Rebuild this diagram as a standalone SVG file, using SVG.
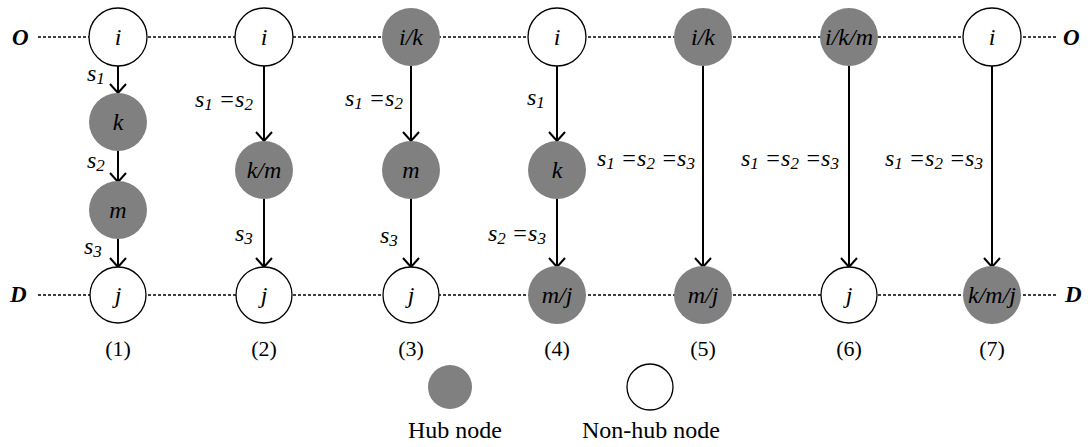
<svg xmlns="http://www.w3.org/2000/svg" width="1088" height="447" viewBox="0 0 1088 447">
<style>
.bg{fill:#fff}
.hub{fill:#808080;stroke:none}
.non{fill:#fff;stroke:#000;stroke-width:1.3}
.dot{stroke:#000;stroke-width:1.6;stroke-dasharray:3 2;fill:none}
.arr{stroke:#000;stroke-width:2;fill:none;marker-end:url(#ah)}
.nl{font-family:"Liberation Serif","Times New Roman",serif;font-style:italic;font-size:24px;text-anchor:middle;fill:#000}
.lbl{font-family:"Liberation Serif","Times New Roman",serif;font-style:italic;font-size:24px;fill:#000}
.sub{font-size:17px}
.od{font-family:"Liberation Serif","Times New Roman",serif;font-style:italic;font-weight:bold;font-size:23px;fill:#000}
.cap{font-family:"Liberation Serif","Times New Roman",serif;font-size:22px;text-anchor:middle;fill:#000}
.leg{font-family:"Liberation Serif","Times New Roman",serif;font-size:24px;fill:#000}
</style>
<defs>
<marker id="ah" markerUnits="userSpaceOnUse" markerWidth="24" markerHeight="24" viewBox="-12 -12 24 24" refX="0" refY="0" orient="auto" overflow="visible">
<path d="M-9,-8 L0,0 L-9,8" fill="none" stroke="#000" stroke-width="2"/>
</marker>
</defs>
<rect class="bg" x="0" y="0" width="1088" height="447"/>
<g id="axes">
<line class="dot" x1="38" y1="37" x2="1057" y2="37"/>
<line class="dot" x1="38" y1="295" x2="1057" y2="295"/>
<text class="od" x="12" y="45">O</text>
<text class="od" x="1063" y="45">O</text>
<text class="od" x="10" y="302">D</text>
<text class="od" x="1065" y="302">D</text>
</g>
<g id="connectors">
<line class="arr" x1="118" y1="66" x2="118" y2="93"/>
<line class="arr" x1="118" y1="151" x2="118" y2="182"/>
<line class="arr" x1="118" y1="239" x2="118" y2="267"/>
<line class="arr" x1="264" y1="66" x2="264" y2="141"/>
<line class="arr" x1="264" y1="199" x2="264" y2="267"/>
<line class="arr" x1="411" y1="66" x2="411" y2="141"/>
<line class="arr" x1="411" y1="199" x2="411" y2="267"/>
<line class="arr" x1="557" y1="66" x2="557" y2="141"/>
<line class="arr" x1="557" y1="199" x2="557" y2="267"/>
<line class="arr" x1="703" y1="66" x2="703" y2="267"/>
<line class="arr" x1="849" y1="66" x2="849" y2="267"/>
<line class="arr" x1="992" y1="66" x2="992" y2="267"/>
<text class="lbl" x="87" y="81">s<tspan class="sub" dy="3">1</tspan></text>
<text class="lbl" x="87" y="168">s<tspan class="sub" dy="3">2</tspan></text>
<text class="lbl" x="84" y="254">s<tspan class="sub" dy="3">3</tspan></text>
<text class="lbl" x="195" y="107">s<tspan class="sub" dy="3">1</tspan><tspan dy="-3"> =s</tspan><tspan class="sub" dy="3">2</tspan></text>
<text class="lbl" x="235" y="241">s<tspan class="sub" dy="3">3</tspan></text>
<text class="lbl" x="345" y="106">s<tspan class="sub" dy="3">1</tspan><tspan dy="-3"> =s</tspan><tspan class="sub" dy="3">2</tspan></text>
<text class="lbl" x="380" y="243">s<tspan class="sub" dy="3">3</tspan></text>
<text class="lbl" x="527" y="105">s<tspan class="sub" dy="3">1</tspan></text>
<text class="lbl" x="488" y="241">s<tspan class="sub" dy="3">2</tspan><tspan dy="-3"> =s</tspan><tspan class="sub" dy="3">3</tspan></text>
<text class="lbl" x="597" y="166">s<tspan class="sub" dy="3">1</tspan><tspan dy="-3"> =s</tspan><tspan class="sub" dy="3">2</tspan><tspan dy="-3"> =s</tspan><tspan class="sub" dy="3">3</tspan></text>
<text class="lbl" x="741" y="166">s<tspan class="sub" dy="3">1</tspan><tspan dy="-3"> =s</tspan><tspan class="sub" dy="3">2</tspan><tspan dy="-3"> =s</tspan><tspan class="sub" dy="3">3</tspan></text>
<text class="lbl" x="885" y="166">s<tspan class="sub" dy="3">1</tspan><tspan dy="-3"> =s</tspan><tspan class="sub" dy="3">2</tspan><tspan dy="-3"> =s</tspan><tspan class="sub" dy="3">3</tspan></text>
</g>
<g id="c1-i"><circle class="non" cx="118" cy="37" r="29"/><text class="nl" x="118" y="45">i</text></g>
<g id="c1-k"><circle class="hub" cx="118" cy="122" r="29"/><text class="nl" x="118" y="130">k</text></g>
<g id="c1-m"><circle class="hub" cx="118" cy="210" r="29"/><text class="nl" x="118" y="218">m</text></g>
<g id="c1-j"><circle class="non" cx="118" cy="295" r="28"/><text class="nl" x="118" y="303">j</text></g>
<g id="c2-i"><circle class="non" cx="264" cy="37" r="29"/><text class="nl" x="264" y="45">i</text></g>
<g id="c2-km"><circle class="hub" cx="264" cy="170" r="29"/><text class="nl" x="264" y="178">k/m</text></g>
<g id="c2-j"><circle class="non" cx="264" cy="295" r="28"/><text class="nl" x="264" y="303">j</text></g>
<g id="c3-ik"><circle class="hub" cx="411" cy="37" r="29"/><text class="nl" x="411" y="45">i/k</text></g>
<g id="c3-m"><circle class="hub" cx="411" cy="170" r="29"/><text class="nl" x="411" y="178">m</text></g>
<g id="c3-j"><circle class="non" cx="411" cy="295" r="28"/><text class="nl" x="411" y="303">j</text></g>
<g id="c4-i"><circle class="non" cx="557" cy="37" r="29"/><text class="nl" x="557" y="45">i</text></g>
<g id="c4-k"><circle class="hub" cx="557" cy="170" r="29"/><text class="nl" x="557" y="178">k</text></g>
<g id="c4-mj"><circle class="hub" cx="557" cy="295" r="29"/><text class="nl" x="557" y="303">m/j</text></g>
<g id="c5-ik"><circle class="hub" cx="703" cy="37" r="29"/><text class="nl" x="703" y="45">i/k</text></g>
<g id="c5-mj"><circle class="hub" cx="703" cy="295" r="29"/><text class="nl" x="703" y="303">m/j</text></g>
<g id="c6-ikm"><circle class="hub" cx="849" cy="37" r="29"/><text class="nl" x="849" y="45">i/k/m</text></g>
<g id="c6-j"><circle class="non" cx="849" cy="295" r="28"/><text class="nl" x="849" y="303">j</text></g>
<g id="c7-i"><circle class="non" cx="992" cy="37" r="29"/><text class="nl" x="992" y="45">i</text></g>
<g id="c7-kmj"><circle class="hub" cx="992" cy="295" r="29"/><text class="nl" x="992" y="303">k/m/j</text></g>
<g id="captions">
<text class="cap" x="118" y="356">(1)</text>
<text class="cap" x="264" y="356">(2)</text>
<text class="cap" x="411" y="356">(3)</text>
<text class="cap" x="557" y="356">(4)</text>
<text class="cap" x="703" y="356">(5)</text>
<text class="cap" x="849" y="356">(6)</text>
<text class="cap" x="992" y="356">(7)</text>
</g>
<g id="legend-hub"><circle class="hub" cx="450" cy="387" r="22"/><text class="leg" x="408" y="438">Hub node</text></g>
<g id="legend-nonhub"><circle class="non" cx="650" cy="387" r="23"/><text class="leg" x="582" y="438">Non-hub node</text></g>
</svg>
